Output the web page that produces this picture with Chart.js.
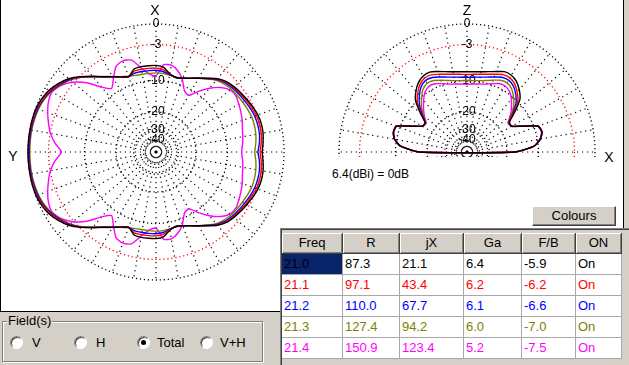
<!DOCTYPE html>
<html>
<head>
<meta charset="utf-8">
<script src="https://cdn.jsdelivr.net/npm/chart.js@4.4.1/dist/chart.umd.min.js"></script>
<style>
  body { margin: 0; width: 629px; height: 365px; background: #d4d0c8; position: relative; overflow: hidden;
         font-family: "Liberation Sans", Arial, sans-serif; color: #000; }
  .abs { position: absolute; }
  #pane { left: 0; top: 0; width: 624px; height: 312px; box-sizing: border-box; background: #fff;
          border-left: 1px solid #000; border-right: 1px solid #000; border-bottom: 1px solid #000; }
  .axl { position: absolute; font-size: 14px; line-height: 14px; transform: translate(-50%, -50%); }
  #dbRef { left: 332px; top: 167px; font-size: 12px; line-height: 14px; }
  #elClip { left: 333px; top: 15px; width: 268px; height: 142px; overflow: hidden; }
  #btn { left: 532px; top: 206px; width: 84px; height: 20px; box-sizing: border-box; background: #d4d0c8;
         border: 1px solid; border-color: #fff #404040 #404040 #fff; box-shadow: inset -1px -1px 0 #808080;
         font-size: 13px; line-height: 18px; text-align: center; }
  #frame { left: 280px; top: 228px; width: 349px; height: 137px; box-sizing: border-box; background: #d4d0c8;
           border-top: 1px solid #808080; border-left: 1px solid #808080; box-shadow: inset 1px 1px 0 #404040; }
  #grid { left: 282px; top: 233px; display: grid; grid-template-columns: 61px 57px 64px 58px 54px 46px;
          grid-auto-rows: 21px; font-size: 13px; }
  #grid div { box-sizing: border-box; line-height: 20px; white-space: nowrap; overflow: hidden; }
  #grid .h { background: #d4d0c8; text-align: center; border-right: 1px solid #404040; border-bottom: 1px solid #404040;
             box-shadow: inset 1px 1px 0 #fff, inset -1px -1px 0 #808080; }
  #grid .c { background: #fff; padding-left: 2px; border-right: 1px solid #a8a8a8; border-bottom: 1px solid #a8a8a8; }
  #grp { left: 2px; top: 321px; width: 261px; height: 41px; box-sizing: border-box;
         border: 1px solid #808080; box-shadow: 1px 1px 0 #fff, inset 1px 1px 0 #fff; }
  #grpCap { left: 7px; top: 314px; font-size: 13px; line-height: 14px; background: #d4d0c8; padding: 0 1px; }
  .radio { position: absolute; top: 336px; width: 13px; height: 13px; box-sizing: border-box; border-radius: 50%;
           background: #fff; border: 1px solid; border-color: #808080 #fff #fff #808080; box-shadow: inset 1px 1px 0 #404040; }
  .radio.on::after { content: ""; position: absolute; left: 3px; top: 3px; width: 5px; height: 5px; border-radius: 50%; background: #000; }
  .rlab { position: absolute; top: 336px; font-size: 13px; line-height: 14px; }
</style>
</head>
<body>
<div id="pane" class="abs"></div>

<canvas id="azChart" class="abs" width="268" height="274" style="left:22px;top:15px"></canvas>
<div id="elClip" class="abs"><canvas id="elChart" width="268" height="274"></canvas></div>

<span class="axl" style="left:155px;top:10px">X</span>
<span class="axl" style="left:13px;top:156px">Y</span>
<span class="axl" style="left:467px;top:10px">Z</span>
<span class="axl" style="left:609px;top:157px">X</span>
<div id="dbRef" class="abs">6.4(dBi) = 0dB</div>

<div id="btn" class="abs">Colours</div>
<div id="frame" class="abs"></div>
<div id="grid" class="abs"></div>

<div id="grp" class="abs"></div>
<div id="grpCap" class="abs">Field(s)</div>
<div class="radio" style="left:10px"></div><span class="rlab" style="left:32px">V</span>
<div class="radio" style="left:74px"></div><span class="rlab" style="left:96px">H</span>
<div class="radio on" style="left:137px"></div><span class="rlab" style="left:157px">Total</span>
<div class="radio" style="left:200px"></div><span class="rlab" style="left:220px">V+H</span>

<script>
/* ===== DATA ===== */
const FREQ = ["21.0", "21.1", "21.2", "21.3", "21.4"];
const RES = [87.3, 97.1, 110.0, 127.4, 150.9];
const REACT = [21.1, 43.4, 67.7, 94.2, 123.4];
const GAIN = [6.4, 6.2, 6.1, 6.0, 5.2];
const FB = [-5.9, -6.2, -6.6, -7.0, -7.5];
const ONOFF = ["On", "On", "On", "On", "On"];
const HEAD = ["Freq", "R", "jX", "Ga", "F/B", "ON"];
const COLORS = ["#000000", "#ff0000", "#0000ff", "#808000", "#ff00ff"];

// rings of the ARRL log grid (dB)
const RING_DB = [-40, -30, -20, -10, -3, 0];

// angle clockwise from the top of the plot, 5 degree steps
const ANGLES = Array.from({ length: 72 }, (_, i) => i * 5);

// azimuth pattern (dB), one value per angle above
const AZ_210 = [-6.7, -7.0, -8.2, -8.7, -8.4, -7.8, -7.0, -6.05, -5.0, -4.3, -3.95, -3.65, -3.4, -3.1, -2.85, -2.75, -2.8, -3.0, -3.2,
  -3.0, -2.8, -2.75, -2.85, -3.1, -3.4, -3.65, -3.95, -4.3, -5.0, -6.05, -7.0, -7.8, -8.4, -8.7, -8.2, -7.0, -6.7,
  -6.7, -6.7, -6.9, -8.05, -7.45, -6.65, -5.7, -4.5, -3.15, -2.0, -1.2, -0.6, -0.26, -0.05, 0, 0, 0,
  0, 0, 0, 0, -0.05, -0.26, -0.6, -1.2, -2.0, -3.15, -4.5, -5.7, -6.65, -7.45, -8.05, -6.9, -6.7, -6.7];
const AZ_211 = [-7.25, -7.5, -8.3, -8.7, -8.4, -7.8, -7.0, -6.1, -5.1, -4.45, -4.1, -3.85, -3.6, -3.35, -3.1, -3.05, -3.1, -3.3, -3.55,
  -3.3, -3.1, -3.05, -3.1, -3.35, -3.6, -3.85, -4.1, -4.45, -5.1, -6.1, -7.0, -7.8, -8.4, -8.7, -8.3, -7.5, -7.25,
  -7.25, -7.25, -7.3, -8.05, -7.45, -6.65, -5.7, -4.5, -3.2, -2.1, -1.35, -0.75, -0.4, -0.15, -0.1, -0.05, -0.05,
  -0.05, -0.05, -0.05, -0.1, -0.15, -0.4, -0.75, -1.35, -2.1, -3.2, -4.5, -5.7, -6.65, -7.45, -8.05, -7.3, -7.25, -7.25];
const AZ_212 = [-7.7, -7.9, -8.4, -8.7, -8.4, -7.8, -7.0, -6.15, -5.2, -4.6, -4.3, -4.05, -3.85, -3.6, -3.4, -3.35, -3.4, -3.6, -3.9,
  -3.6, -3.4, -3.35, -3.4, -3.6, -3.85, -4.05, -4.3, -4.6, -5.2, -6.15, -7.0, -7.8, -8.4, -8.7, -8.4, -7.9, -7.7,
  -7.7, -7.7, -7.7, -8.05, -7.45, -6.65, -5.7, -4.5, -3.25, -2.2, -1.5, -0.9, -0.5, -0.3, -0.2, -0.15, -0.15,
  -0.15, -0.15, -0.15, -0.2, -0.3, -0.5, -0.9, -1.5, -2.2, -3.25, -4.5, -5.7, -6.65, -7.45, -8.05, -7.7, -7.7, -7.7];
const AZ_213 = [-8.25, -8.3, -8.5, -8.6, -8.3, -7.7, -6.95, -6.15, -5.4, -4.9, -4.6, -4.4, -4.25, -4.05, -3.9, -3.9, -4.0, -4.2, -4.45,
  -4.2, -4.0, -3.9, -3.9, -4.05, -4.25, -4.4, -4.6, -4.9, -5.4, -6.15, -6.95, -7.7, -8.3, -8.6, -8.5, -8.3, -8.25,
  -8.3, -8.3, -8.2, -7.9, -7.4, -6.6, -5.65, -4.5, -3.3, -2.3, -1.6, -1.0, -0.6, -0.4, -0.3, -0.25, -0.25,
  -0.25, -0.25, -0.25, -0.3, -0.4, -0.6, -1.0, -1.6, -2.3, -3.3, -4.5, -5.65, -6.6, -7.4, -7.9, -8.2, -8.3, -8.3];
const AZ_214 = [-8.9, -6.5, -6.4, -7.2, -8.7, -11.0, -11.5, -9.4, -7.4, -5.8, -4.85, -4.65, -5.0, -5.35, -5.7, -6.15, -6.4, -6.65, -6.9,
  -6.65, -6.4, -6.15, -5.7, -5.35, -5.0, -4.65, -4.85, -5.8, -7.4, -9.4, -11.5, -11.0, -8.7, -7.2, -6.4, -6.5, -8.9,
  -8.4, -6.9, -5.1, -4.75, -5.2, -7.0, -8.6, -7.1, -4.6, -2.85, -1.7, -1.1, -1.3, -1.8, -2.4, -3.05, -4.0,
  -5.2, -4.0, -3.05, -2.4, -1.8, -1.3, -1.1, -1.7, -2.85, -4.6, -7.1, -8.6, -7.0, -5.2, -4.75, -5.1, -6.9, -8.4];

// elevation pattern (dB), left horizon -> zenith -> right horizon, 5 degree steps
const EL_210 = [-17, -11.2, -9.5, -8.9, -9.1, -12.7, -15.6, -15.7, -12.7, -9.7, -8.2, -7.1, -6.5, -6.4, -6.9, -7.4, -7.75, -7.95, -8.0,
  -7.95, -7.75, -7.4, -6.9, -6.3, -6.3, -6.8, -7.8, -9.2, -12.3, -15.5, -15.6, -12.7, -9.0, -8.6, -9.3, -11.0, -17];
const EL_211 = [-17, -11.2, -9.5, -8.9, -9.1, -12.7, -15.6, -15.8, -13.1, -10.3, -8.8, -7.6, -7.0, -7.0, -7.5, -7.95, -8.3, -8.5, -8.6,
  -8.5, -8.3, -7.95, -7.5, -6.95, -6.9, -7.4, -8.5, -9.9, -12.8, -15.7, -15.6, -12.7, -9.0, -8.6, -9.3, -11.0, -17];
const EL_212 = [-17, -11.2, -9.5, -8.9, -9.1, -12.7, -15.6, -15.9, -13.5, -11.0, -9.4, -8.1, -7.5, -7.6, -8.1, -8.6, -8.95, -9.15, -9.25,
  -9.15, -8.95, -8.6, -8.1, -7.55, -7.45, -7.9, -9.0, -10.5, -13.2, -15.8, -15.6, -12.7, -9.0, -8.6, -9.3, -11.0, -17];
const EL_213 = [-17, -11.2, -9.5, -8.9, -9.1, -12.7, -15.6, -16.0, -13.9, -11.8, -10.2, -8.8, -8.2, -8.3, -8.85, -9.4, -9.75, -9.95, -10.0,
  -9.95, -9.75, -9.4, -8.85, -8.25, -8.1, -8.6, -9.8, -11.3, -13.6, -15.9, -15.6, -12.7, -9.0, -8.6, -9.3, -11.0, -17];
const EL_214 = [-17, -11.3, -9.6, -9.0, -9.2, -12.7, -15.6, -16.2, -14.3, -12.6, -11.0, -9.6, -8.95, -9.1, -9.7, -10.3, -10.6, -10.8, -10.9,
  -10.8, -10.6, -10.3, -9.7, -9.05, -8.9, -9.4, -10.6, -12.2, -14.0, -16.1, -15.6, -12.7, -9.1, -8.7, -9.4, -11.1, -17];

const AZ = [AZ_210, AZ_211, AZ_212, AZ_213, AZ_214];
const EL = [EL_210, EL_211, EL_212, EL_213, EL_214];

/* ===== ARRL log scale: dB -> radius fraction ===== */
const arrl = db => db === null ? null : Math.pow(0.89, -db / 2);

// elevation list covers only the upper half of the circle
const elevToCircle = arr => ANGLES.map(a => a <= 90 ? arr[18 + a / 5] : a >= 270 ? arr[(a - 270) / 5] : null);

const polarOptions = {
  responsive: false,
  animation: false,
  events: [],
  plugins: { legend: { display: false }, tooltip: { enabled: false } },
  scales: {
    r: {
      min: 0,
      max: 1,
      afterBuildTicks: s => { s.ticks = [{ value: 0 }].concat(RING_DB.map(d => ({ value: arrl(d) }))); },
      ticks: {
        callback: (v, i) => i ? String(RING_DB[i - 1]) : "",
        color: "#000",
        font: { family: "Liberation Sans", size: 12 },
        showLabelBackdrop: false,
        backdropPadding: 0
      },
      grid: { circular: true, color: c => c.index === 5 ? "#ff0000" : "#000000", lineWidth: 1.3, borderDash: [1.2, 2.8] },
      border: { dash: [1.2, 2.8] },
      angleLines: { color: c => c.index % 2 ? "rgba(0,0,0,0)" : "#000000", lineWidth: 1.2, borderDash: [1.2, 3.8] },
      pointLabels: { display: false }
    }
  }
};

const mkSets = (series, conv, gaps) => series.map((d, k) => ({
  label: FREQ[k],
  data: conv(d),
  borderColor: COLORS[k],
  borderWidth: 1.4,
  pointRadius: 0,
  fill: false,
  spanGaps: gaps,
  tension: 0.2
}));

/* ===== CHARTS ===== */
new Chart(document.getElementById("azChart"), {
  type: "radar",
  data: { labels: ANGLES, datasets: mkSets(AZ, d => d.map(arrl), false) },
  options: polarOptions
});

// the gap below the horizon is bridged along the ground line
new Chart(document.getElementById("elChart"), {
  type: "radar",
  data: { labels: ANGLES, datasets: mkSets(EL, d => elevToCircle(d).map(arrl), true) },
  options: polarOptions
});

/* ===== TABLE ===== */
const grid = document.getElementById("grid");
let html = HEAD.map(h => `<div class="h">${h}</div>`).join("");
FREQ.forEach((f, k) => {
  const col = COLORS[k];
  const sel = k === 0 ? "background:#0a246a;" : "";
  html += `
    <div class="c" style="color:${col};${sel}">${f}</div>
    <div class="c" style="color:${col}">${RES[k].toFixed(1)}</div>
    <div class="c" style="color:${col}">${REACT[k].toFixed(1)}</div>
    <div class="c" style="color:${col}">${GAIN[k].toFixed(1)}</div>
    <div class="c" style="color:${col}">${FB[k].toFixed(1)}</div>
    <div class="c" style="color:${col}">${ONOFF[k]}</div>`;
});
grid.innerHTML = html;
</script>
</body>
</html>
